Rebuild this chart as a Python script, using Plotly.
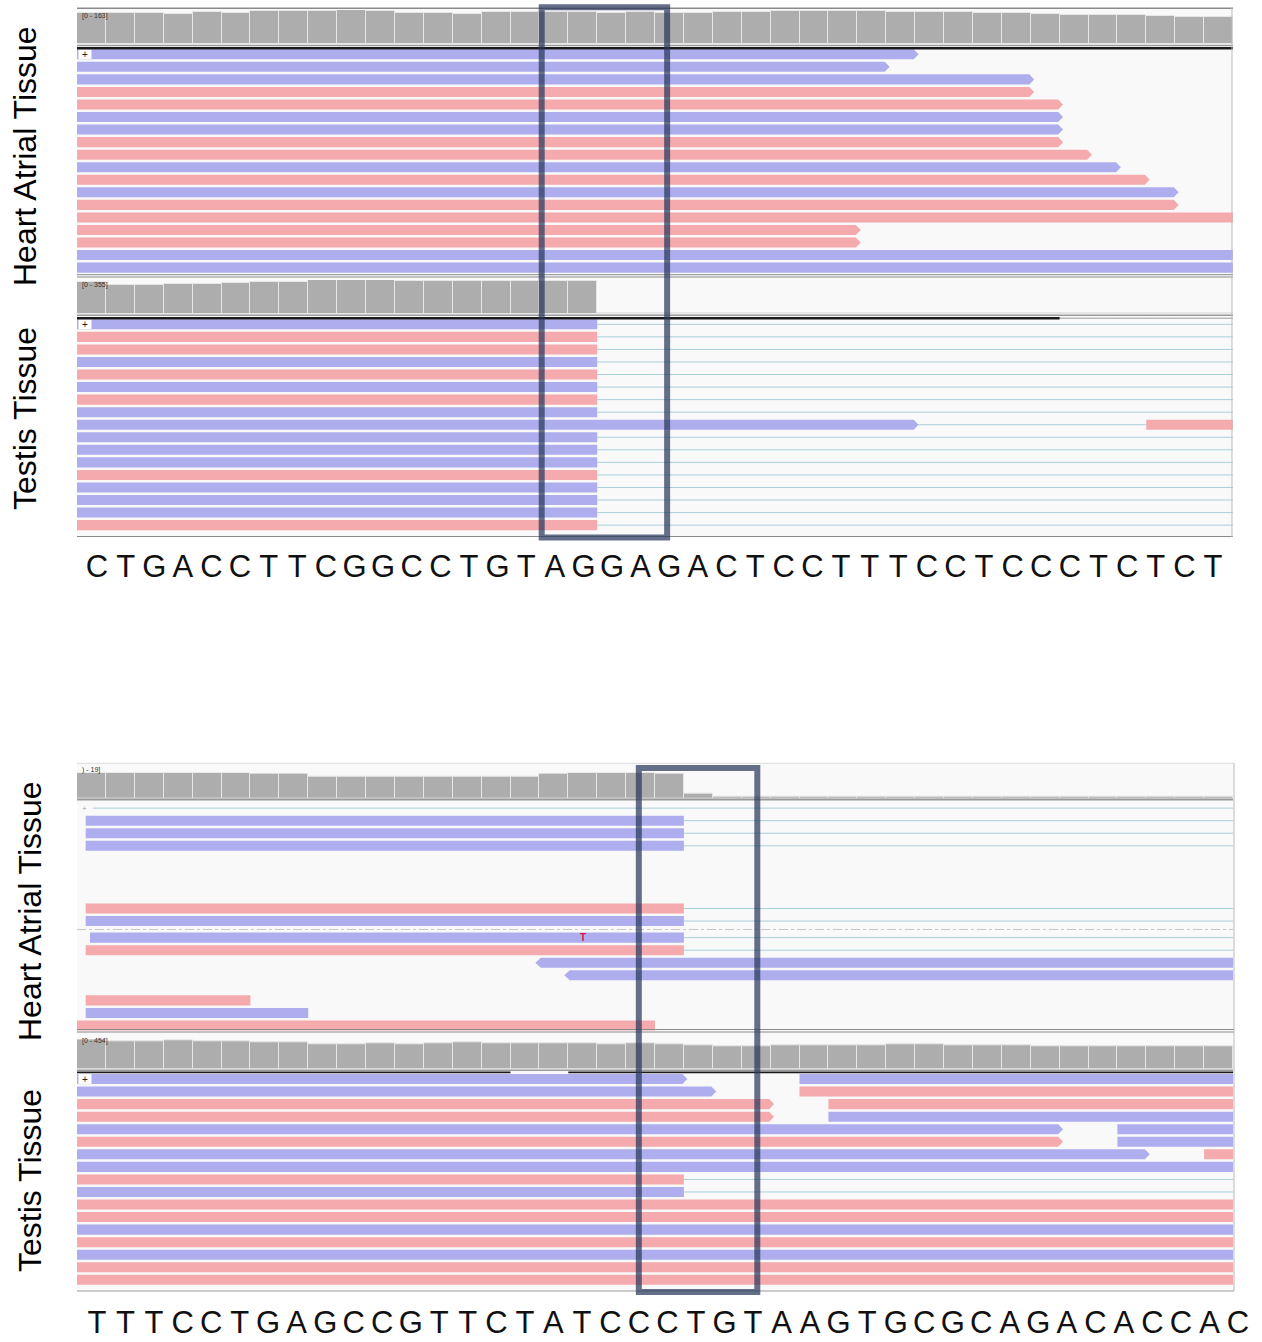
import plotly.graph_objects as go

W, H = 1262, 1342

# ------------------------------------------------------------------ data
top_sequence = list("CTGACCTTCGGCCTGTAGGAGACTCCTTTCCTCCCTCTCT")
bottom_sequence = list("TTTCCTGAGCCGTTCTATCCCTGTAAGTGCGCAGACACCAC")

track_names = ["Heart Atrial Tissue", "Testis Tissue", "Heart Atrial Tissue", "Testis Tissue"]

top_heart_coverage = [150, 150, 150, 144, 155, 150, 160, 160, 160, 163, 160, 150, 150, 144,
                      155, 155, 155, 155, 150, 155, 150, 150, 155, 155, 158, 158, 158, 158,
                      155, 155, 155, 150, 150, 144, 141, 141, 141, 136, 131, 131]
top_heart_max = 163

top_testis_coverage = [337, 303, 303, 314, 314, 321, 331, 331, 355, 355, 355, 348, 348, 348,
                       348, 348, 348, 348, 18, 18, 18, 18, 18, 18, 18, 18, 18, 18,
                       18, 18, 18, 18, 18, 18, 18, 18, 18, 18, 18, 18]
top_testis_max = 355

bottom_heart_coverage = [19, 19, 19, 19, 19, 19, 18, 18, 16, 16, 16, 16, 16, 16,
                         16, 16, 18, 19, 19, 19, 18, 4, 2, 2, 2, 2, 2, 2,
                         2, 2, 2, 2, 2, 2, 2, 2, 2, 2, 2, 2]
bottom_heart_max = 19

bottom_testis_coverage = [454, 428, 428, 443, 428, 428, 403, 403, 378, 378, 393, 378, 393, 409,
                          393, 393, 393, 393, 378, 393, 378, 357, 353, 353, 368, 368, 368, 368,
                          378, 383, 368, 368, 368, 353, 353, 342, 342, 342, 342, 342]
bottom_testis_max = 454

# reads: (row, start base, end base, colour b/p, strand arrow)
top_heart_reads = [
    (0, 0, 29, "b", ">"), (1, 0, 28, "b", ">"), (2, 0, 33, "b", ">"), (3, 0, 33, "p", ">"),
    (4, 0, 34, "p", ">"), (5, 0, 34, "b", ">"), (6, 0, 34, "b", ">"), (7, 0, 34, "p", ">"),
    (8, 0, 35, "p", ">"), (9, 0, 36, "b", ">"), (10, 0, 37, "p", ">"), (11, 0, 38, "b", ">"),
    (12, 0, 38, "p", ">"), (13, 0, 40, "p", ""), (14, 0, 27, "p", ">"), (15, 0, 27, "p", ">"),
    (16, 0, 40, "b", ""), (17, 0, 40, "b", ""),
]
top_heart_links = []

top_testis_reads = [
    (0, 0, 18, "b", ""), (1, 0, 18, "p", ""), (2, 0, 18, "p", ""), (3, 0, 18, "b", ""),
    (4, 0, 18, "p", ""), (5, 0, 18, "b", ""), (6, 0, 18, "p", ""), (7, 0, 18, "b", ""),
    (8, 0, 29, "b", ">"), (8, 37, 40, "p", ""), (9, 0, 18, "b", ""), (10, 0, 18, "b", ""),
    (11, 0, 18, "b", ""), (12, 0, 18, "p", ""), (13, 0, 18, "b", ""), (14, 0, 18, "b", ""),
    (15, 0, 18, "b", ""), (16, 0, 18, "p", ""),
]
top_testis_links = [(r, 18, 40) for r in range(17)]

bottom_heart_reads = [
    (1, 0.3, 21, "b", ""), (2, 0.3, 21, "b", ""), (3, 0.3, 21, "b", ""),
    (8, 0.3, 21, "p", ""), (9, 0.3, 21, "b", ""), (10, 0.45, 21, "b", ""),
    (11, 0.3, 21, "p", ""), (12, 16, 40, "b", "<"), (13, 17, 40, "b", "<"),
    (15, 0.3, 6, "p", ""), (16, 0.3, 8, "b", ""), (17, 0, 20, "p", ""),
]
bottom_heart_links = [(0, 0.55, 40), (1, 21, 40), (2, 21, 40), (3, 21, 40),
                      (8, 21, 40), (9, 21, 40), (10, 21, 40), (11, 21, 40)]
bottom_heart_mismatch = [(10, 17, "T")]

bottom_testis_reads = [
    (0, 0, 21, "b", ">"), (0, 25, 40, "b", ""), (1, 0, 22, "b", ">"), (1, 25, 40, "p", ""),
    (2, 0, 24, "p", ">"), (2, 26, 40, "p", ""), (3, 0, 24, "p", ">"), (3, 26, 40, "b", ""),
    (4, 0, 34, "b", ">"), (4, 36, 40, "b", ""), (5, 0, 34, "p", ">"), (5, 36, 40, "b", ""),
    (6, 0, 37, "b", ">"), (6, 39, 40, "p", ""), (7, 0, 40, "b", ""), (8, 0, 21, "p", ""),
    (9, 0, 21, "b", ""), (10, 0, 40, "p", ""), (11, 0, 40, "p", ""), (12, 0, 40, "b", ""),
    (13, 0, 40, "p", ""), (14, 0, 40, "b", ""), (15, 0, 40, "p", ""), (16, 0, 40, "p", ""),
]
bottom_testis_links = [(8, 21, 40), (9, 21, 40)]

# downsampled intervals (black bar under the coverage track)
top_heart_downsampled = [(0, 40)]
top_testis_downsampled = [(0, 34)]
bottom_heart_downsampled = []
bottom_testis_downsampled = [(0, 15), (17, 40)]

# highlighted windows (in bases)
top_highlight = (16.08, 20.42)
bottom_highlight = (19.44, 23.54)

# ------------------------------------------------------------------ styles
BLUE = "#AEAEEE"
PINK = "#F5AAAD"
COV = "#ADADAD"
LINK = "#A9CEDA"
BOXC = "rgba(42,56,92,0.72)"
NB = 40
X0, X1 = 77, 1233
ROW = 12.55

fig = go.Figure()
axes = {}
shapes = []
annotations = []
counter = [0]


def clamp(v):
    return max(0.0, min(1.0, v))


def xd(a, b):
    return [clamp(a / W), clamp(b / W)]


def yd(top, bottom):
    return [clamp(1 - bottom / H), clamp(1 - top / H)]


def py(p):
    return 1 - p / H


def px(p):
    return p / W


def new_axes(xdom, ydom, xr, yr):
    counter[0] += 1
    s = "" if counter[0] == 1 else str(counter[0])
    axes["xaxis" + s] = dict(domain=xdom, range=xr, visible=False, fixedrange=True, anchor="y" + s)
    axes["yaxis" + s] = dict(domain=ydom, range=yr, visible=False, fixedrange=True, anchor="x" + s)
    return "x" + s, "y" + s


def hline(y, x0=X0, x1=X1, color="#888888", width=1.0, dash="solid"):
    shapes.append(dict(type="line", xref="paper", yref="paper", x0=px(x0), x1=px(x1),
                       y0=py(y), y1=py(y), line=dict(color=color, width=width, dash=dash)))


def vline(x, y0, y1, color="#BBBBBB", width=1.0):
    shapes.append(dict(type="line", xref="paper", yref="paper", x0=px(x), x1=px(x),
                       y0=py(y0), y1=py(y1), line=dict(color=color, width=width)))


def prect(x0, y0, x1, y1, fill, layer="below"):
    shapes.append(dict(type="rect", xref="paper", yref="paper", x0=px(x0), x1=px(x1),
                       y0=py(y1), y1=py(y0), fillcolor=fill, line=dict(width=0), layer=layer))


def coverage(values, vmax, top_px, bot_px, label, label_px):
    xr, yr = new_axes(xd(X0, X1), yd(top_px, bot_px), [0, NB], [0, vmax])
    fig.add_trace(go.Bar(x=[i + 0.5 for i in range(len(values))], y=values, width=1.0,
                         marker=dict(color=COV, line=dict(color="#E6E6E6", width=1)),
                         xaxis=xr, yaxis=yr, hoverinfo="skip"))
    annotations.append(dict(text=label, xref="paper", yref="paper", x=px(80), y=py(label_px),
                            xanchor="left", yanchor="middle", showarrow=False,
                            font=dict(size=7, color="#333333", family="Liberation Sans")))
    return xr


def read_path(s, e, y0, y1, strand):
    ym = (y0 + y1) / 2
    if strand == ">":
        return f"M{s},{y0} L{e - 0.05},{y0} L{e + 0.12},{ym} L{e - 0.05},{y1} L{s},{y1} Z"
    if strand == "<":
        return f"M{e},{y0} L{s + 0.05},{y0} L{s - 0.14},{ym} L{s + 0.05},{y1} L{e},{y1} Z"
    return f"M{s},{y0} L{e},{y0} L{e},{y1} L{s},{y1} Z"


def reads_track(reads, links, nrows, top_px, shift_from=None, shift=0.0, plus=True, mism=()):
    total = nrows + (shift if shift_from is not None else 0)
    xr, yr = new_axes(xd(X0, X1), yd(top_px, top_px + ROW * total), [0, NB], [total, 0])

    def yy(r):
        return r + (shift if (shift_from is not None and r >= shift_from) else 0)

    for r, s, e in links:
        y = yy(r) + 0.5
        shapes.append(dict(type="line", xref=xr, yref=yr, x0=s, x1=e, y0=y, y1=y,
                           line=dict(color=LINK, width=1)))
    for r, s, e, c, st in reads:
        y0 = yy(r) + 0.1
        y1 = yy(r) + 0.9
        shapes.append(dict(type="path", xref=xr, yref=yr, path=read_path(s, e, y0, y1, st),
                           fillcolor=BLUE if c == "b" else PINK, line=dict(width=0)))
    if plus:
        shapes.append(dict(type="rect", xref=xr, yref=yr, x0=0.05, x1=0.5, y0=0.1, y1=0.9,
                           fillcolor="white", line=dict(color="#DDDDDD", width=0.5)))
        annotations.append(dict(text="+", xref=xr, yref=yr, x=0.27, y=0.5, showarrow=False,
                                xanchor="center", yanchor="middle",
                                font=dict(size=10, color="#222222", family="Liberation Sans")))
    for r, b, t in mism:
        annotations.append(dict(text="<b>%s</b>" % t, xref=xr, yref=yr, x=b + 0.5, y=yy(r) + 0.5,
                                showarrow=False, xanchor="center", yanchor="middle",
                                font=dict(size=10, color="#E0104A", family="Liberation Sans")))
    return xr, yr


def downsampled(xr, intervals, y0, y1):
    for a, b in intervals:
        shapes.append(dict(type="rect", xref=xr, yref="paper", x0=a, x1=b, y0=py(y1), y1=py(y0),
                           fillcolor="#1A1A1A", line=dict(width=0)))


# ------------------------------------------------------------------ top panel
prect(X0, 8, 1232, 537, "#F9F9F9")
hline(45.5, color="#9A9A9A", width=1.5)
hline(315.3, color="#9A9A9A", width=1.5)
x_th = coverage(top_heart_coverage, top_heart_max, 10.0, 44.3, "[0 - 163]", 15.5)
x_tt = coverage(top_testis_coverage, top_testis_max, 280.0, 314.3, "[0 - 355]", 285.5)
reads_track(top_heart_reads, top_heart_links, 18, 48.0)
reads_track(top_testis_reads, top_testis_links, 17, 318.05)
downsampled(x_th, top_heart_downsampled, 47.0, 49.5)
hline(318.2, color="#9A9A9A", width=1)
downsampled(x_tt, top_testis_downsampled, 317.0, 319.5)
hline(8.3, color="#8A8A8A", width=1.5)
hline(274.7, color="#8A8A8A", width=1)
hline(277.0, color="#8A8A8A", width=1)
hline(536.5, color="#8A8A8A", width=1)
vline(1232, 8, 537)

# ------------------------------------------------------------------ bottom panel
prect(X0, 763, 1234, 1291, "#F9F9F9")
x_bh = coverage(bottom_heart_coverage, bottom_heart_max, 772.7, 799.0, ") - 19]", 769.5)
x_bt = coverage(bottom_testis_coverage, bottom_testis_max, 1039.3, 1069.3, "[0 - 454]", 1040.5)
hline(799.5, color="#9A9A9A", width=2)
hline(1070.3, color="#9A9A9A", width=1.5)
xr_bh, yr_bh = reads_track(bottom_heart_reads, bottom_heart_links, 18, 801.85,
                           shift_from=10, shift=0.32, plus=False, mism=bottom_heart_mismatch)
shapes.append(dict(type="line", xref=xr_bh, yref=yr_bh, x0=0, x1=NB, y0=10.17, y1=10.17,
                   line=dict(color="#C8C8C8", width=1, dash="dashdot")))
annotations.append(dict(text="+", xref=xr_bh, yref=yr_bh, x=0.25, y=0.5, showarrow=False,
                        font=dict(size=8, color="#AAAAAA", family="Liberation Sans")))
reads_track(bottom_testis_reads, bottom_testis_links, 17, 1072.75)
downsampled(x_bt, bottom_testis_downsampled, 1071.5, 1073.3)
hline(763.3, x1=1234, color="#DDDDDD", width=1)
hline(1029.5, x1=1234, color="#8A8A8A", width=1)
hline(1032.0, x1=1234, color="#8A8A8A", width=1)
hline(1291.0, x1=1234, color="#9A9A9A", width=1)
vline(1234, 763, 1291)

# ------------------------------------------------------------------ highlight boxes
shapes.append(dict(type="rect", xref=x_th, yref="paper", x0=top_highlight[0], x1=top_highlight[1],
                   y0=py(537.5), y1=py(7.3), line=dict(color=BOXC, width=6), fillcolor="rgba(0,0,0,0)"))
shapes.append(dict(type="rect", xref=x_bh, yref="paper", x0=bottom_highlight[0], x1=bottom_highlight[1],
                   y0=py(1292), y1=py(768), line=dict(color=BOXC, width=6), fillcolor="rgba(0,0,0,0)"))

# ------------------------------------------------------------------ sequences
def sequence_axis(letters, first_px, last_px, top_px, bot_px):
    n = len(letters)
    step = (last_px - first_px) / (n - 1)
    xr, yr = new_axes(xd(first_px - step / 2, last_px + step / 2), yd(top_px, bot_px),
                      [-0.5, n - 0.5], [0, 1])
    fig.add_trace(go.Scatter(x=list(range(n)), y=[0.5] * n, mode="text", text=letters,
                             xaxis=xr, yaxis=yr, hoverinfo="skip", cliponaxis=False,
                             textfont=dict(size=31, color="#111111", family="Liberation Sans")))


sequence_axis(top_sequence, 97, 1213, 550, 588)
sequence_axis(bottom_sequence, 97, 1238, 1308, 1342)

# ------------------------------------------------------------------ track labels
label_pos = [(25, 156), (25, 419), (30, 911), (30, 1181)]
for name, (lx, ly) in zip(track_names, label_pos):
    annotations.append(dict(text=name, xref="paper", yref="paper", x=px(lx), y=py(ly),
                            textangle=-90, showarrow=False, xanchor="center", yanchor="middle",
                            font=dict(size=32, color="#000000", family="Liberation Sans")))

fig.update_layout(
    width=W, height=H, margin=dict(l=0, r=0, t=0, b=0),
    paper_bgcolor="white", plot_bgcolor="rgba(0,0,0,0)",
    showlegend=False, barmode="overlay", bargap=0,
    shapes=shapes, annotations=annotations,
    **axes,
)
fig.write_html("out.html")
